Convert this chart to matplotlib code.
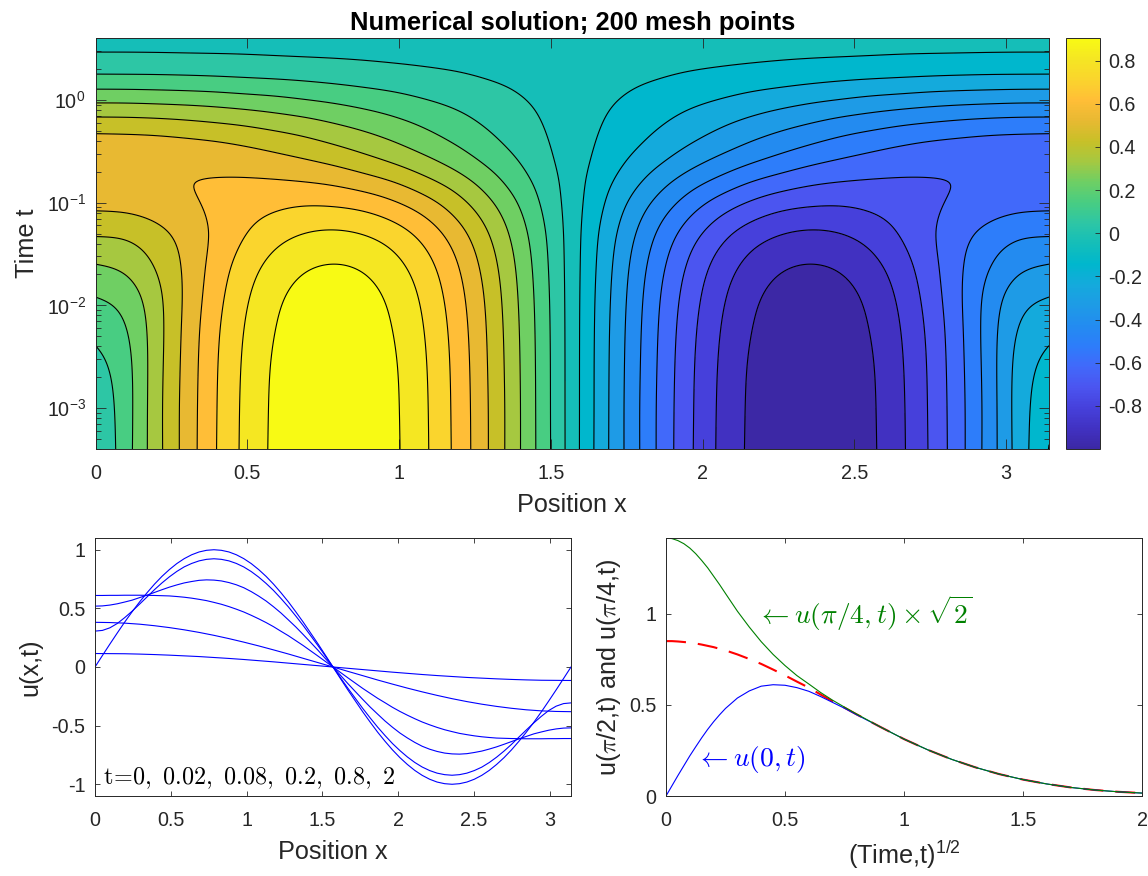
import numpy as np
import matplotlib
matplotlib.use('Agg')
import matplotlib.pyplot as plt
from matplotlib.colors import LinearSegmentedColormap, Normalize
from matplotlib.cm import ScalarMappable
from matplotlib.ticker import FormatStrFormatter, LogLocator, NullFormatter

plt.rcParams['font.family'] = ['Liberation Sans', 'DejaVu Sans']
plt.rcParams['axes.unicode_minus'] = False
plt.rcParams['mathtext.fontset'] = 'custom'
plt.rcParams['mathtext.rm'] = 'Liberation Sans'
plt.rcParams['mathtext.it'] = 'Liberation Sans:italic'
plt.rcParams['mathtext.bf'] = 'Liberation Sans:bold'
plt.rcParams['lines.scale_dashes'] = False

# x columns, left half of the domain (the right half is the mirror image with flipped sign)
x_half = [0, 0.098, 0.196, 0.295, 0.393, 0.491, 0.589, 0.687, 0.785, 0.884, 0.982,
          1.08, 1.178, 1.276, 1.374, 1.473, 1.571]

# top panel: rows of log10(t), values read along each row
log_t = [-3.4, -3, -2.6, -2.2, -1.9, -1.6, -1.3, -1, -0.8, -0.6, -0.4, -0.2, 0, 0.2, 0.4, 0.603]
u_m34 = [.045, .195, .382, .555, .706, .83, .922, .979, .998, .979, .922, .83, .706, .555, .382, .195, 0]
u_m30 = [.071, .195, .382, .554, .704, .828, .92, .977, .996, .977, .92, .828, .704, .554, .382, .194, 0]
u_m26 = [.112, .204, .379, .55, .70, .823, .915, .971, .99, .971, .915, .823, .70, .55, .379, .193, 0]
u_m22 = [.177, .237, .38, .543, .689, .81, .90, .956, .975, .956, .90, .81, .689, .542, .373, .19, 0]
u_m19 = [.243, .285, .396, .537, .673, .79, .879, .933, .951, .933, .879, .79, .672, .529, .364, .185, 0]
u_m16 = [.333, .361, .436, .54, .653, .756, .837, .888, .905, .888, .836, .752, .64, .503, .347, .176, 0]
u_m13 = [.44, .45, .494, .56, .635, .709, .77, .809, .822, .804, .757, .681, .579, .455, .314, .16, 0]
u_m10 = [.551, .557, .576, .603, .635, .665, .688, .701, .696, .673, .628, .562, .476, .373, .257, .13, 0]
u_m08 = [.60, .601, .608, .616, .624, .629, .628, .62, .602, .569, .524, .462, .39, .303, .207, .106, 0]
u_m06 = [.607, .606, .603, .598, .59, .577, .558, .535, .505, .465, .419, .364, .302, .232, .159, .08, 0]
u_m04 = [.556, .553, .547, .536, .522, .502, .477, .448, .413, .374, .331, .282, .231, .176, .119, .06, 0]
u_m02 = [.45, .448, .442, .431, .416, .398, .375, .35, .32, .288, .253, .215, .175, .132, .089, .045, 0]
u_p00 = [.312, .311, .306, .299, .289, .275, .26, .241, .221, .198, .174, .147, .12, .091, .061, .031, 0]
u_p02 = [.174, .173, .171, .167, .161, .153, .145, .135, .123, .11, .097, .082, .067, .05, .034, .017, 0]
u_p04 = [.069, .069, .068, .066, .064, .061, .057, .053, .049, .044, .038, .032, .026, .02, .013, .007, 0]
u_p06 = [.016, .015, .015, .015, .014, .014, .013, .012, .011, .01, .009, .007, .006, .005, .003, .002, 0]

# bottom left panel, finer x for the curved profiles
x_fine = [0, .049, .098, .147, .196, .245, .295, .344, .393, .442, .491, .54, .589, .638, .687, .736, .785,
          .834, .884, .933, .982, 1.031, 1.08, 1.129, 1.178, 1.227, 1.276, 1.325, 1.374, 1.423, 1.473, 1.522, 1.571]
t_0 = [0, .098, .195, .29, .383, .471, .556, .634, .707, .773, .831, .882, .924, .957, .981, .995, 1,
       .995, .981, .957, .924, .882, .831, .773, .707, .634, .556, .471, .383, .29, .195, .098, 0]
t_002 = [.306, .312, .334, .371, .421, .476, .537, .598, .66, .717, .769, .815, .854, .883, .905, .918, .923,
         .918, .905, .883, .853, .814, .767, .713, .653, .585, .513, .435, .354, .268, .18, .09, 0]
t_008 = [.519, .521, .528, .539, .554, .57, .592, .613, .636, .659, .681, .70, .717, .729, .739, .743, .741,
         .734, .72, .701, .676, .643, .605, .563, .514, .461, .402, .342, .277, .21, .141, .07, 0]
t_02 = [.61, .61, .611, .611, .612, .612, .612, .611, .61, .608, .606, .601, .595, .587, .577, .566, .551,
        .535, .515, .493, .469, .441, .411, .379, .344, .305, .267, .225, .183, .138, .092, .046, 0]
t_08 = [.381, .379, .374, .365, .352, .336, .317, .295, .27, .242, .212, .18, .146, .111, .074, .037, 0]
t_2 = [.115, .114, .113, .11, .106, .101, .095, .089, .081, .073, .064, .054, .044, .033, .022, .011, 0]

# bottom right panel
sqrt_t = [0, .025, .05, .075, .1, .125, .15, .175, .2, .225, .25, .3, .35, .4, .45, .5, .55, .6, .65, .7, .75,
          .8, .9, 1, 1.1, 1.2, 1.3, 1.4, 1.5, 1.6, 1.7, 1.8, 1.9, 2]
u_zero = [0, .056, .112, .166, .22, .27, .319, .365, .407, .445, .48, .537, .576, .602, .61, .607, .594, .574,
          .545, .513, .481, .446, .379, .312, .253, .201, .157, .12, .09, .066, .047, .033, .023, .016]
u_quarter = [1.414, 1.411, 1.40, 1.383, 1.359, 1.328, 1.291, 1.251, 1.205, 1.159, 1.11, 1.013, .926, .846, .776,
             .715, .66, .614, .567, .525, .487, .45, .379, .312, .253, .201, .157, .12, .09, .066, .047, .033,
             .023, .016]
u_mode = [.849, .849, .847, .844, .841, .836, .83, .823, .816, .807, .798, .776, .751, .724, .693, .661, .627,
          .594, .556, .519, .484, .448, .379, .312, .253, .201, .157, .12, .09, .066, .047, .033, .023, .016]

band_colors = [(60, 40, 165), (65, 50, 195), (70, 65, 220), (75, 85, 240), (65, 105, 250),
               (45, 125, 250), (35, 140, 240), (30, 155, 230), (20, 170, 220), (0, 183, 205),
               (20, 190, 185), (45, 198, 165), (72, 205, 130), (110, 207, 100), (165, 200, 65),
               (200, 192, 40), (232, 185, 50), (255, 190, 55), (250, 212, 45), (245, 230, 35),
               (248, 250, 20)]
DARK = (0.15, 0.15, 0.15)
W, H = 1148, 876
TICK = 14.2
LABEL = 18.2


def axes_px(left, top, right, bottom):
    return fig.add_axes([left / W, 1 - bottom / H, (right - left) / W, (bottom - top) / H])


def style(ax, length=3.6):
    ax.tick_params(which='both', direction='in', top=True, right=True, width=0.6, color=DARK,
                   labelsize=TICK, labelcolor=DARK)
    ax.tick_params(axis='x', which='major', length=length, pad=10.5)
    ax.tick_params(axis='y', which='major', length=length, pad=7)
    for s in ax.spines.values():
        s.set_linewidth(0.7)
        s.set_color(DARK)
    ax.xaxis.set_major_formatter(FormatStrFormatter('%g'))


def mirror_x(col):
    col = np.array(col, dtype=float)
    out = np.hstack([col, np.pi - col[-2::-1]])
    out[len(col) - 1] = np.pi / 2
    return out


def mirror(row):
    row = np.array(row, dtype=float)
    return np.hstack([row, -row[-2::-1]])


def smooth_along(xs, zs, xnew):
    # natural cubic spline through every row of zs, only to get round contour lines
    xs = np.asarray(xs, dtype=float)
    h = np.diff(xs)
    n = len(xs)
    A = np.zeros((n, n))
    A[0, 0] = A[-1, -1] = 1
    for i in range(1, n - 1):
        A[i, i - 1:i + 2] = h[i - 1], 2 * (h[i - 1] + h[i]), h[i]
    d = np.diff(zs, axis=1) / h
    rhs = np.zeros_like(zs)
    rhs[:, 1:-1] = 6 * (d[:, 1:] - d[:, :-1])
    m = np.linalg.solve(A, rhs.T).T
    i = np.clip(np.searchsorted(xs, xnew) - 1, 0, n - 2)
    a = (xs[i + 1] - xnew) / h[i]
    b = (xnew - xs[i]) / h[i]
    return (a * zs[:, i] + b * zs[:, i + 1]
            + ((a ** 3 - a) * m[:, i] + (b ** 3 - b) * m[:, i + 1]) * h[i] ** 2 / 6)


fig = plt.figure(figsize=(W / 100, H / 100), dpi=100)

# top panel
rows = [u_m34, u_m30, u_m26, u_m22, u_m19, u_m16, u_m13, u_m10, u_m08, u_m06, u_m04, u_m02,
        u_p00, u_p02, u_p04, u_p06]
u_grid = np.array([mirror(r) for r in rows])
x_full = mirror_x(x_half)
x_draw = np.linspace(0, np.pi, 513)
y_draw = np.linspace(log_t[0], log_t[-1], 401)
u_draw = smooth_along(x_full, u_grid, x_draw)
u_draw = smooth_along(log_t, u_draw.T, y_draw).T

levels = np.linspace(-1, 1, 22)
vmax = levels[-2]
cmap = LinearSegmentedColormap.from_list('bands', [tuple(c / 255 for c in rgb) for rgb in band_colors], N=256)
norm = Normalize(-1, vmax)
fill_colors = [cmap(norm(v)) for v in levels[:-1]]

ax1 = axes_px(95.5, 38, 1049, 449)
ax1.contourf(x_draw, 10.0 ** y_draw, np.clip(u_draw, -0.999, 0.999), levels=levels, colors=fill_colors)
ax1.contour(x_draw, 10.0 ** y_draw, u_draw, levels=levels[1:-1], colors='k', linewidths=0.8, linestyles='solid')
ax1.set_yscale('log')
ax1.set_xlim(0, np.pi)
ax1.set_ylim(4e-4, 4)
style(ax1, 7.2)
ax1.tick_params(which='minor', length=3.6)
ax1.set_xticks([0, 0.5, 1, 1.5, 2, 2.5, 3])
ax1.set_yticks([1e-3, 1e-2, 1e-1, 1])
ax1.yaxis.set_minor_locator(LogLocator(base=10, subs=range(2, 10), numticks=12))
ax1.yaxis.set_minor_formatter(NullFormatter())
ax1.set_xlabel('Position x', fontsize=LABEL, color=DARK)
ax1.xaxis.set_label_coords(0.5, -44 / 411)
ax1.set_ylabel('Time t', fontsize=LABEL, color=DARK)
ax1.yaxis.set_label_coords(-56 / 953.5, 0.5)
ax1.set_title('Numerical solution; 200 mesh points', fontsize=18.4, fontweight='bold', pad=6)

cax = axes_px(1066, 38, 1100, 449)
cb = fig.colorbar(ScalarMappable(norm=norm, cmap=cmap), cax=cax)
cb.set_ticks([-0.8, -0.6, -0.4, -0.2, 0, 0.2, 0.4, 0.6, 0.8])
cb.ax.yaxis.set_major_formatter(FormatStrFormatter('%g'))
cb.ax.tick_params(direction='in', length=3.6, width=0.6, color=DARK, labelsize=TICK, labelcolor=DARK, pad=6)
cb.outline.set_linewidth(0.7)
cb.outline.set_edgecolor(DARK)

# bottom left panel
ax2 = axes_px(95, 538, 571, 796)
for curve in [t_0, t_002, t_008, t_02]:
    ax2.plot(mirror_x(x_fine), mirror(curve), color=(0, 0, 1), lw=0.8)
for curve in [t_08, t_2]:
    ax2.plot(x_full, mirror(curve), color=(0, 0, 1), lw=0.8)
ax2.set_xlim(0, np.pi)
ax2.set_ylim(-1.1, 1.1)
style(ax2)
ax2.set_xticks([0, 0.5, 1, 1.5, 2, 2.5, 3])
ax2.set_yticks([-1, -0.5, 0, 0.5, 1])
ax2.yaxis.set_major_formatter(FormatStrFormatter('%g'))
ax2.set_xlabel('Position x', fontsize=LABEL, color=DARK)
ax2.xaxis.set_label_coords(0.5, -44 / 258)
ax2.set_ylabel('u(x,t)', fontsize=LABEL, color=DARK)
ax2.yaxis.set_label_coords(-53 / 476, 0.5)
ax2.text(0.016, 0.07, r'$\mathrm{t\!=\!0,\ 0.02,\ 0.08,\ 0.2,\ 0.8,\ 2}$', transform=ax2.transAxes,
         fontsize=17.4, color='k', va='center', math_fontfamily='cm')

# bottom right panel
ax3 = axes_px(666, 538, 1142, 796)
ax3.plot(sqrt_t, u_mode, color='r', lw=1.5, dashes=(14.4, 8.6))
ax3.plot(sqrt_t, u_zero, color=(0, 0, 1), lw=0.8)
ax3.plot(sqrt_t, u_quarter, color=(0, 0.5, 0), lw=0.8)
ax3.set_xlim(0, 2)
ax3.set_ylim(0, np.sqrt(2))
style(ax3)
ax3.set_xticks([0, 0.5, 1, 1.5, 2])
ax3.set_yticks([0, 0.5, 1])
ax3.yaxis.set_major_formatter(FormatStrFormatter('%g'))
ax3.set_xlabel(r'(Time,t)$^{\mathrm{1/2}}$', fontsize=LABEL, color=DARK)
ax3.xaxis.set_label_coords(0.5, -43 / 258)
ax3.set_ylabel(r'u($\pi$/2,t) and u($\pi$/4,t)', fontsize=LABEL, color=DARK, math_fontfamily='cm')
ax3.yaxis.set_label_coords(-43 / 476, 0.5)
ax3.text(0.382, 1.0, r'$\leftarrow u(\pi/4,t) \times \sqrt{2}$', color=(0, 0.5, 0), fontsize=19.8,
         va='center', math_fontfamily='cm')
ax3.text(0.128, 0.2, r'$\leftarrow u(0,t)$', color=(0, 0, 1), fontsize=19.8, va='center', math_fontfamily='cm')

fig.savefig('out.png', dpi=100)
